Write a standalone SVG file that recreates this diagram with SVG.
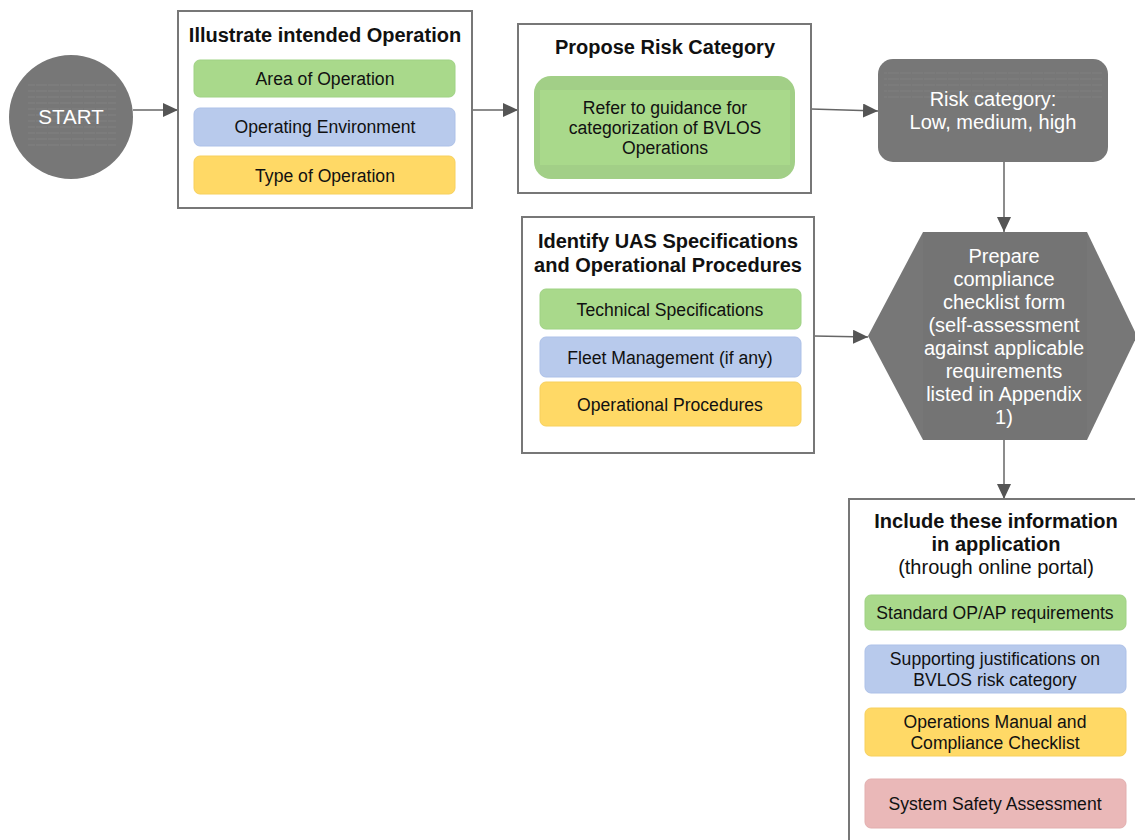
<svg xmlns="http://www.w3.org/2000/svg" width="1135" height="840" viewBox="0 0 1135 840">
<style>
text{font-family:"Liberation Sans",Arial,sans-serif;fill:#111;text-anchor:middle}
.t{font-size:20px;font-weight:bold}
.s{font-size:17.6px}
.w{fill:#fff;font-size:20px}
.box{fill:#fff;stroke:#777;stroke-width:2}
.g{fill:#a9d98b;stroke:#9fd284;stroke-width:1}
.b{fill:#b8caec;stroke:#adc1e8;stroke-width:1}
.y{fill:#ffd966;stroke:#f7d05c;stroke-width:1}
.p{fill:#eab8b8;stroke:#e2afaf;stroke-width:1}
.c{stroke:#666;stroke-width:1.5;fill:none}
</style>
<defs>
<marker id="ah2" markerWidth="15" markerHeight="14" refX="15" refY="7" orient="auto" markerUnits="userSpaceOnUse" viewBox="0 0 15 14">
<path d="M0,0 L15,7 L0,14 z" fill="#555"/>
</marker>
<pattern id="tex" width="12" height="6" patternUnits="userSpaceOnUse">
<rect width="12" height="6" fill="#777"/>
<rect x="0" y="0" width="11" height="2" fill="#7d7d7d"/>
</pattern>
</defs>
<rect width="1135" height="840" fill="#fff"/>

<g id="connectors">
<line class="c" x1="133" y1="110" x2="178" y2="110" marker-end="url(#ah2)"/>
<line class="c" x1="472" y1="110" x2="518" y2="110" marker-end="url(#ah2)"/>
<line class="c" x1="811" y1="109" x2="878" y2="111" marker-end="url(#ah2)"/>
<line class="c" x1="1004" y1="162" x2="1004" y2="232" marker-end="url(#ah2)"/>
<line class="c" x1="814" y1="336" x2="868" y2="337" marker-end="url(#ah2)"/>
<line class="c" x1="1004" y1="440" x2="1004" y2="499" marker-end="url(#ah2)"/>
</g>

<g id="start">
<circle cx="71" cy="117" r="62" fill="#777"/>
<rect x="28" y="84" width="88" height="66" fill="url(#tex)" opacity="0.8"/>
<text x="71" y="124" class="w" style="font-size:20.5px">START</text>
</g>

<g id="illustrate">
<rect class="box" x="178" y="11" width="294" height="197"/>
<text class="t" x="325" y="42">Illustrate intended Operation</text>
<rect class="g" x="194" y="60" width="261" height="37" rx="6"/>
<text class="s" x="325" y="85">Area of Operation</text>
<rect class="b" x="194" y="108" width="261" height="38" rx="6"/>
<text class="s" x="325" y="133">Operating Environment</text>
<rect class="y" x="194" y="156" width="261" height="38" rx="6"/>
<text class="s" x="325" y="182">Type of Operation</text>
</g>

<g id="propose">
<rect class="box" x="518" y="24" width="293" height="169"/>
<text class="t" x="665" y="54">Propose Risk Category</text>
<rect x="534" y="76" width="261" height="103" rx="17" fill="#a2cf87"/>
<rect x="540" y="90" width="250" height="75" fill="#a9d98b"/>
<text class="s" x="665" y="114">Refer to guidance for</text>
<text class="s" x="665" y="134">categorization of BVLOS</text>
<text class="s" x="665" y="154">Operations</text>
</g>

<g id="riskcat">
<rect x="878" y="59" width="230" height="103" rx="15" fill="#777"/>
<rect x="884" y="70" width="218" height="32" fill="url(#tex)" opacity="0.7"/>
<text class="w" x="993" y="106">Risk category:</text>
<text class="w" x="993" y="129">Low, medium, high</text>
</g>

<g id="prepare">
<polygon points="868,336 923,232 1087,232 1137,336 1087,440 923,440" fill="#777"/>
<rect x="923" y="232" width="164" height="208" fill="#747474"/>
<text class="w" x="1004" y="263">Prepare</text>
<text class="w" x="1004" y="286">compliance</text>
<text class="w" x="1004" y="309">checklist form</text>
<text class="w" x="1004" y="332">(self-assessment</text>
<text class="w" x="1004" y="355">against applicable</text>
<text class="w" x="1004" y="378">requirements</text>
<text class="w" x="1004" y="401">listed in Appendix</text>
<text class="w" x="1004" y="424">1)</text>
</g>

<g id="identify">
<rect class="box" x="522" y="217" width="292" height="236"/>
<text class="t" x="668" y="248">Identify UAS Specifications</text>
<text class="t" x="668" y="272">and Operational Procedures</text>
<rect class="g" x="540" y="289" width="261" height="40" rx="6"/>
<text class="s" x="670" y="316">Technical Specifications</text>
<rect class="b" x="540" y="337" width="261" height="40" rx="6"/>
<text class="s" x="670" y="364">Fleet Management (if any)</text>
<rect class="y" x="540" y="382" width="261" height="44" rx="6"/>
<text class="s" x="670" y="411">Operational Procedures</text>
</g>

<g id="include">
<rect class="box" x="849" y="499" width="300" height="360"/>
<text class="t" x="996" y="528">Include these information</text>
<text class="t" x="996" y="551">in application</text>
<text x="996" y="574" style="font-size:20px">(through online portal)</text>
<rect class="g" x="865" y="595" width="261" height="35" rx="6"/>
<text class="s" x="995" y="619">Standard OP/AP requirements</text>
<rect class="b" x="865" y="645" width="261" height="48" rx="6"/>
<text class="s" x="995" y="665">Supporting justifications on</text>
<text class="s" x="995" y="686">BVLOS risk category</text>
<rect class="y" x="865" y="708" width="261" height="48" rx="6"/>
<text class="s" x="995" y="728">Operations Manual and</text>
<text class="s" x="995" y="749">Compliance Checklist</text>
<rect class="p" x="865" y="779" width="261" height="49" rx="6"/>
<text class="s" x="995" y="810">System Safety Assessment</text>
</g>
</svg>
